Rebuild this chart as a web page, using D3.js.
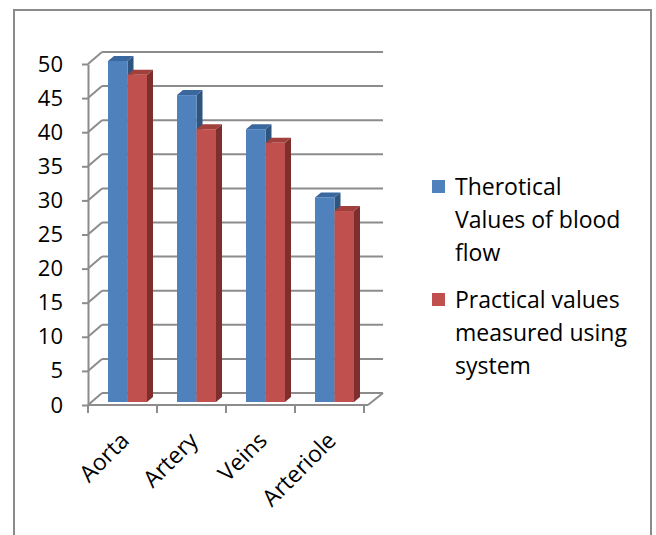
<!DOCTYPE html>
<html>
<head>
<meta charset="utf-8">
<script src="https://cdn.jsdelivr.net/npm/d3@7"></script>
<style>
  body { margin: 0; background: #fff; }
  text { font-family: "Open Sans", sans-serif; fill: #000; }
</style>
</head>
<body>
<div id="chart"></div>
<script>
// data
const categories = ["Aorta", "Artery", "Veins", "Arteriole"];
const theoretical = [50, 45, 40, 30];
const practical = [48, 40, 38, 28];
const yTicks = [0, 5, 10, 15, 20, 25, 30, 35, 40, 45, 50];
const seriesKeys = ["theoretical", "practical"];
const legendLines = [
  ["Therotical", "Values of blood", "flow"],
  ["Practical values", "measured using", "system"]
];

const W = 656, H = 535;
const fontSize = 22;
const colors = {
  theoretical: {front: "#4F81BD", top: "#3A679D", side: "#2E5480"},
  practical:   {front: "#C0504D", top: "#A03F3C", side: "#7E2F2D"}
};
const gridColor = "#8c8c8c";

// depth offsets for the fake 3d
const wall = {dx: 14, dy: -12};
const barShift = {dx: 5, dy: -3};
const barDepth = {dx: 6, dy: -5};

const svg = d3.select("#chart")
  .append("svg")
    .attr("width", W)
    .attr("height", H);

// outer frame
svg.append("rect")
  .attr("x", 14).attr("y", 10)
  .attr("width", 637).attr("height", 540)
  .attr("fill", "#fff")
  .attr("stroke", "#8a8a8a")
  .attr("stroke-width", 2);

const x = d3.scaleBand()
  .domain(categories)
  .range([88, 364]);

const y = d3.scaleLinear()
  .domain([0, 50])
  .range([405, 64]);

const x1 = d3.scaleBand()
  .domain(seriesKeys)
  .range([15, 54]);

const xEnd = x.range()[1];

// back wall gridlines + side wall diagonals
const grid = svg.append("g")
  .attr("stroke", gridColor)
  .attr("stroke-width", 2)
  .attr("fill", "none");

grid.selectAll(".back")
  .data(yTicks)
  .join("line")
    .attr("x1", x.range()[0] + wall.dx)
    .attr("x2", xEnd + wall.dx + 5)
    .attr("y1", d => y(d) + wall.dy)
    .attr("y2", d => y(d) + wall.dy);

grid.selectAll(".side")
  .data(yTicks)
  .join("line")
    .attr("x1", x.range()[0])
    .attr("x2", x.range()[0] + wall.dx)
    .attr("y1", d => y(d))
    .attr("y2", d => y(d) + wall.dy);

// floor front edge and right edge
grid.append("line")
  .attr("x1", x.range()[0]).attr("x2", xEnd + 4)
  .attr("y1", y(0)).attr("y2", y(0));
grid.append("line")
  .attr("x1", xEnd + 4).attr("x2", xEnd + wall.dx + 5)
  .attr("y1", y(0)).attr("y2", y(0) + wall.dy);

// category tick marks under the floor
const bounds = categories.map(c => x(c)).concat([xEnd]);
grid.selectAll(".xtick")
  .data(bounds)
  .join("line")
    .attr("x1", d => d).attr("x2", d => d)
    .attr("y1", y(0)).attr("y2", y(0) + 8);

// y axis
const yAxis = svg.append("g")
  .attr("transform", `translate(${x.range()[0]},0)`)
  .call(d3.axisLeft(y)
    .tickValues(yTicks)
    .tickSizeInner(6)
    .tickSizeOuter(0)
    .tickPadding(19));
yAxis.select(".domain").attr("stroke", gridColor).attr("stroke-width", 2);
yAxis.selectAll(".tick line").attr("stroke", gridColor).attr("stroke-width", 2);
yAxis.selectAll(".tick text")
  .attr("font-size", fontSize)
  .style("font-family", "'Open Sans', sans-serif");

// bars
const rows = categories.map((c, i) => ({
  cat: c,
  vals: [
    {key: "theoretical", value: theoretical[i]},
    {key: "practical", value: practical[i]}
  ]
}));

const base = y(0) + barShift.dy;

rows.forEach(r => {
  r.vals.forEach(v => {
    const bx = x(r.cat) + x1(v.key) + barShift.dx;
    const bw = x1.bandwidth();
    const by = y(v.value) + barShift.dy;
    const col = colors[v.key];
    const g = svg.append("g");
    // side
    g.append("path")
      .attr("d", `M${bx + bw},${by}L${bx + bw + barDepth.dx},${by + barDepth.dy}` +
                 `L${bx + bw + barDepth.dx},${base + barDepth.dy}L${bx + bw},${base}Z`)
      .attr("fill", col.side);
    // top
    g.append("path")
      .attr("d", `M${bx},${by}L${bx + barDepth.dx},${by + barDepth.dy}` +
                 `L${bx + bw + barDepth.dx},${by + barDepth.dy}L${bx + bw},${by}Z`)
      .attr("fill", col.top);
    // front
    g.append("rect")
      .attr("x", bx).attr("y", by)
      .attr("width", bw).attr("height", base - by)
      .attr("fill", col.front);
  });
});

// category labels, rotated
svg.append("g")
  .selectAll("text")
  .data(categories)
  .join("text")
    .attr("text-anchor", "end")
    .attr("font-size", 23)
    .attr("transform", d => `translate(${x(d) + x.bandwidth() / 2 + 8},${y(0) + 37}) rotate(-45)`)
    .text(d => d);

// legend
const legend = svg.append("g");
seriesKeys.forEach((k, i) => {
  const top = 180 + i * 113;
  legend.append("rect")
    .attr("x", 432).attr("y", top)
    .attr("width", 13).attr("height", 13)
    .attr("fill", colors[k].front);
  legend.append("text")
    .attr("x", 455)
    .attr("font-size", 23)
    .selectAll("tspan")
    .data(legendLines[i])
    .join("tspan")
      .attr("x", 455)
      .attr("y", (d, j) => top + 15 + j * 33)
      .text(d => d);
});
</script>
</body>
</html>
